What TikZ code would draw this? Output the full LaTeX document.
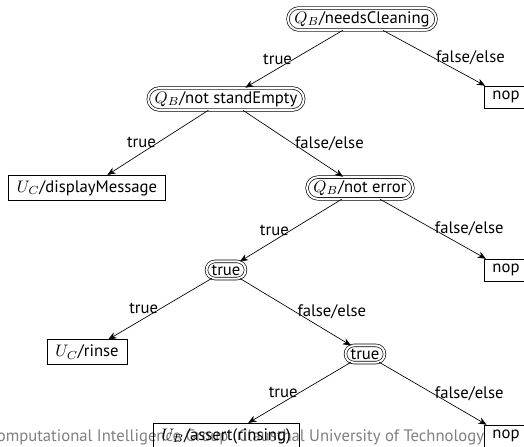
\documentclass[tikz,border=0pt]{standalone}
\usepackage{fontspec}
\setmainfont{PT Sans}
\usepackage{tikz}
\usetikzlibrary{shapes.misc,arrows.meta}
\tikzset{
  test/.style={rounded rectangle,draw,double,double distance=1.2pt,inner sep=2pt},
  act/.style={rectangle,draw,inner xsep=5pt,inner ysep=3pt},
  arr/.style={-{Stealth[length=5pt,width=4pt]}},
  lbl/.style={inner sep=1pt}
}
\begin{document}
\begin{tikzpicture}[x=0.6pt,y=-0.6pt]
    		\useasboundingbox (0,0) rectangle (524,447);
    		\clip (0,0) rectangle (524,447);

    		% footer of the slide
    		\node[anchor=base west,text=black!50] (ftl) at (-18,441) {Computational Intelligence Group};
    		\node[anchor=base east,text=black!50] (ftr) at (490,441) {Clausthal University of Technology};

    		\node[test] (clean) at (362,19) {$Q_B$/needsCleaning};
    		\node[test] (empty) at (226,99) {$Q_B$/not standEmpty};
    		\node[act] (nopa) at (506,97) {nop};
    		\node[act] (msg) at (87,188) {$U_C$/displayMessage};
    		\node[test] (err) at (360,188) {$Q_B$/not error};
    		\node[test] (ta) at (226,270) {true};
    		\node[act] (nopb) at (506,270) {nop};
    		\node[act] (rinse) at (87,352) {$U_C$/rinse};
    		\node[test] (tb) at (365,354) {true};
    		\node[act] (assert) at (226,436) {$U_B$/assert(rinsing)};
    		\node[act] (nopc) at (506,436) {nop};

    		\draw[arr] (clean) -- node[lbl,left] {true} (empty);
    		\draw[arr] (clean) -- node[lbl,right] {false/else} (nopa);
    		\draw[arr] (empty) -- node[lbl,left] {true} (msg);
    		\draw[arr] (empty) -- node[lbl,right] {false/else} (err);
    		\draw[arr] (err) -- node[lbl,left] {true} (ta);
    		\draw[arr] (err) -- node[lbl,right] {false/else} (nopb);
    		\draw[arr] (ta) -- node[lbl,left] {true} (rinse);
    		\draw[arr] (ta) -- node[lbl,right] {false/else} (tb);
    		\draw[arr] (tb) -- node[lbl,left] {true} (assert);
    		\draw[arr] (tb) -- node[lbl,right] {false/else} (nopc);
    	\end{tikzpicture}
\end{document}
